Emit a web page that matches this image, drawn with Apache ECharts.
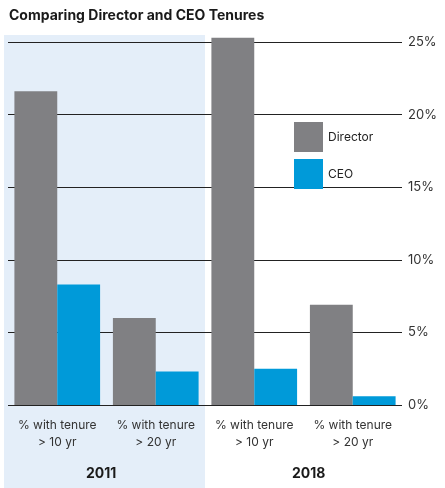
<!DOCTYPE html>
<html>
<head>
<meta charset="utf-8">
<script src="https://cdn.jsdelivr.net/npm/echarts@6/dist/echarts.min.js"></script>
<style>html,body{margin:0;padding:0;background:#fff}</style>
</head>
<body>
<div id="chart" style="width:445px;height:488px"></div>
<script>
// categories and values
var categories = ['% with tenure\n> 10 yr', '% with tenure\n> 20 yr', '% with tenure\n> 10 yr', '% with tenure\n> 20 yr'];
var directorValues = [21.6, 6.0, 25.3, 6.9];
var ceoValues = [8.3, 2.3, 2.5, 0.6];
var years = ['2011', '2018'];

var myChart = echarts.init(document.getElementById('chart'));

var option = {
    animation: false,
    title: {
        text: 'Comparing Director and CEO Tenures',
        left: 4, top: 4,
        textStyle: { fontFamily: 'Inter', fontSize: 14, fontWeight: 'bold', color: '#1a1a1a' }
    },
    graphic: [
        { type: 'rect', left: 4, top: 35, shape: { width: 201, height: 453 }, style: { fill: '#e4eef9' }, z: -10 },
        { type: 'text', left: 86, top: 467, style: { text: years[0], font: 'bold 14px Inter', fill: '#1a1a1a' } },
        { type: 'text', left: 292, top: 467, style: { text: years[1], font: 'bold 14px Inter', fill: '#1a1a1a' } }
    ],
    legend: {
        data: ['Director', 'CEO'],
        orient: 'vertical',
        left: 289, top: 117,
        itemWidth: 29, itemHeight: 30, itemGap: 7,
        icon: 'rect',
        textStyle: { fontFamily: 'Inter', fontSize: 12, color: '#222' }
    },
    grid: { left: 8, right: 43, top: 42, bottom: 83 },
    xAxis: {
        type: 'category',
        data: categories,
        axisLine: { show: false },
        axisTick: { show: false },
        axisLabel: { interval: 0, align: 'center', margin: 12, fontFamily: 'Inter', fontSize: 12, color: '#333', lineHeight: 17 }
    },
    yAxis: {
        type: 'value',
        position: 'right',
        min: 0, max: 25, interval: 5,
        axisLine: { show: false },
        axisTick: { show: false },
        axisLabel: { formatter: '{value}%', margin: 6, fontFamily: 'Inter', fontSize: 13, color: '#333' },
        splitLine: { lineStyle: { color: '#222', width: 1 } }
    },
    series: [
        { name: 'Director', type: 'bar', clip: false, data: directorValues, barGap: '0%', barCategoryGap: '13%', itemStyle: { color: '#808083' } },
        { name: 'CEO', type: 'bar', clip: false, data: ceoValues, itemStyle: { color: '#009ad9' } }
    ]
};

myChart.setOption(option);
</script>
</body>
</html>
